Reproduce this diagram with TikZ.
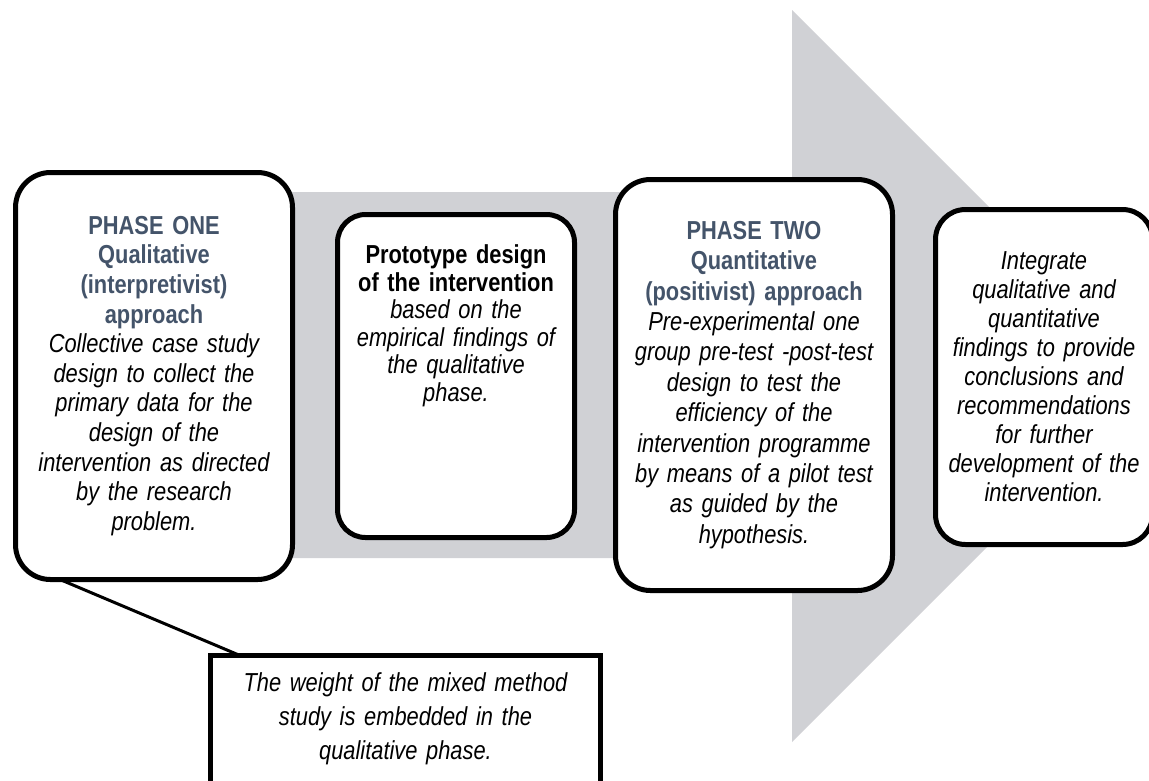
\documentclass[tikz,border=0pt]{standalone}
\usepackage{fontspec}
\setmainfont[FakeStretch=0.84]{Liberation Sans}
\usetikzlibrary{positioning}
\usetikzlibrary{calc}
\definecolor{arrowgray}{RGB}{208,209,213}
\definecolor{headblue}{RGB}{68,84,106}

\begin{document}
\begin{tikzpicture}[x=1pt, y=-1pt,
            phasebox/.style={rectangle, rounded corners=35pt, draw=black, line width=5pt, fill=white, align=center, inner sep=0pt, outer sep=0pt},
            notebox/.style={rectangle, draw=black, line width=5pt, fill=white, inner sep=0pt, outer sep=0pt},
            boxtext/.style={align=center, inner sep=0pt},
            ]

            \path[use as bounding box, clip] (0,0) rectangle (1149,780);

            % big grey arrow behind the phases
            \fill[arrowgray] (15,192) -- (792,192) -- (792,10) -- (1158,376) -- (792,742) -- (792,558) -- (15,558) -- cycle;

            \node[phasebox, text width=277pt, minimum height=407pt, font=\fontsize{26pt}{29.6pt}\selectfont] (B1) at (154,376)
                {{\color{headblue}\bfseries PHASE ONE\\ Qualitative\\ (interpretivist)\\ approach}\\
                 {\itshape Collective case study\\ design to collect the\\ primary data for the\\ design of the\\ intervention as directed\\ by the research\\ problem.}};
            \node[phasebox, rounded corners=28pt, right=45pt of B1, minimum width=237pt, minimum height=323pt] (B2) {};
            \node[boxtext, text width=237pt, below=30pt of B2.north, font=\fontsize{26pt}{27.5pt}\selectfont] (B2text)
                {{\bfseries Prototype design\\ of the intervention}\\
                 {\itshape based on the\\ empirical findings of\\ the qualitative\\ phase.}};
            \node[phasebox, right=41pt of B2, yshift=-9pt, text width=277pt, minimum height=411pt, font=\fontsize{26pt}{30.4pt}\selectfont] (B3)
                {{\color{headblue}\bfseries PHASE TWO\\ Quantitative\\ (positivist) approach}\\
                 {\itshape Pre-experimental one\\ group pre-test -post-test\\ design to test the\\ efficiency of the\\ intervention programme\\ by means of a pilot test\\ as guided by the\\ hypothesis.}};
            \node[phasebox, rounded corners=30pt, right=43pt of B3, yshift=8pt, text width=217pt, minimum height=335pt, font=\fontsize{26pt}{29pt}\selectfont\itshape] (B4)
                {Integrate\\ qualitative and\\ quantitative\\ findings to provide\\ conclusions and\\ recommendations\\ for further\\ development of the\\ intervention.};

            \node[notebox, anchor=north, minimum width=390pt, minimum height=200pt] (note) at (405.5,655.5) {};
            \node[boxtext, text width=390pt, below=17pt of note.north, font=\fontsize{26pt}{34pt}\selectfont\itshape] (notetext)
                {The weight of the mixed method\\ study is embedded in the\\ qualitative phase.};

            \draw[line width=3pt] ($(B1.south west)+(44.5,0)$) -- ($(note.north west)+(29.5,0)$);
        \end{tikzpicture}
\end{document}
